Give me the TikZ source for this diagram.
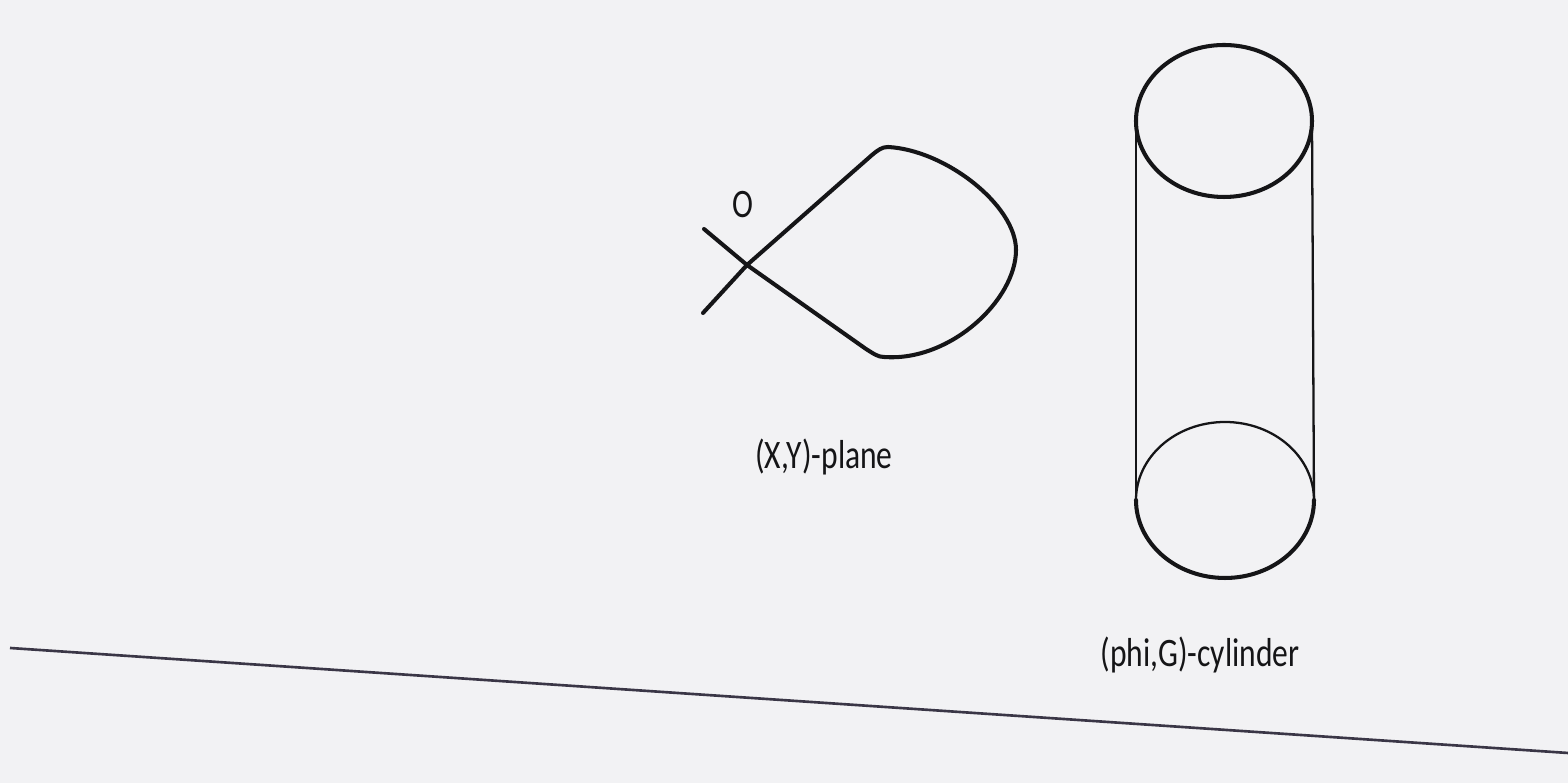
\documentclass[tikz,border=0pt]{standalone}
\usepackage{fontspec}
\setmainfont{Carlito}
\usetikzlibrary{positioning}
\definecolor{inkDark}{HTML}{151517}
\definecolor{paperGray}{HTML}{F2F2F4}
\definecolor{edgeLine}{HTML}{3A3646}

\begin{document}
\begin{tikzpicture}[
    x=0.01cm, y=-0.01cm,
    inkline/.style={draw=inkDark, line width=#1, line cap=round, line join=round},
    inkline/.default=1.15pt,
    lbl/.style={anchor=base, inner sep=0pt, text=inkDark,
                font=\fontsize{11.5}{13}\selectfont, xscale=0.78, transform shape},
  ]
    \fill[paperGray] (0,0) rectangle (1568,783);
    \useasboundingbox (0,0) rectangle (1568,783);

    % loop in the (X,Y)-plane
    \coordinate (cross) at (747,265);
    \coordinate (tailUp) at (704,229);
    \coordinate (tailLow) at (703,313);
    \coordinate (loopTop) at (888,147);
    \coordinate (loopRight) at (1016,250);
    \coordinate (loopBot) at (884,357);
    \draw[inkline] (tailLow) -- (cross) -- (872,155)
      .. controls (878,150) and (882,147) .. (loopTop)
      .. controls (945,150) and (1016,205) .. (loopRight)
      .. controls (1016,300) and (950,362) .. (loopBot)
      .. controls (878,357) and (874,354) .. (866,349)
      -- (cross) -- (tailUp);
    \node[lbl] (origin) at (743,218) {O};
    \node[lbl] (planeLabel) at (824,469) {(X,Y)-plane};

    % (phi,G)-cylinder
    \coordinate (topC) at (1224,121);
    \coordinate (botC) at (1225,500);
    \draw[inkline] (topC) ellipse [x radius=88, y radius=76];
    \draw[inkline=0.65pt] (botC) ellipse [x radius=89, y radius=78];
    \draw[inkline] (1136,500) arc [start angle=180, end angle=0,
      x radius=89, y radius=78];
    \draw[inkline=0.65pt] (1136,121) -- (1136,500);
    \draw[inkline=0.65pt] (1312,121) -- (1314,500);
    \node[lbl] (cylLabel) at (1200,667) {(phi,G)-cylinder};

    % edge of the page
    \draw[edgeLine, line width=0.75pt] (10,648) -- (1568,753);
  \end{tikzpicture}
\end{document}
